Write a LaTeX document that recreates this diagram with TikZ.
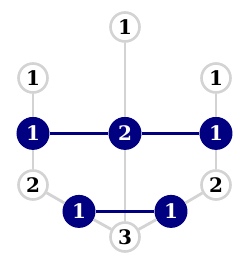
\documentclass[tikz,border=0pt]{standalone}
\usepackage{fontspec}
\setmainfont{DejaVu Serif}
\usetikzlibrary{positioning}
\definecolor{mtNavy}{HTML}{000080}
\definecolor{mtGray}{HTML}{D3D3D3}
\tikzset{
  vtx/.style={circle, minimum size=29pt, inner sep=0pt, font=\fontsize{20}{20}\selectfont\bfseries},
  freevtx/.style={vtx, draw=mtGray, line width=2.6pt, fill=white, text=black},
  matchvtx/.style={vtx, fill=mtNavy, text=white, minimum size=33pt},
  graphedge/.style={draw=mtGray, line width=2.8pt},
  matchedge/.style={draw=mtNavy, line width=3.6pt}
}
\begin{document}
\begin{tikzpicture}[x=1pt, y=1pt]
  \useasboundingbox (0,0) rectangle (250,266);
  \fill[white] (0,0) rectangle (250,266);
  % nodes
  \node[freevtx] (top) at (125,239) {1};
  \node[freevtx] (tl) at (33,188) {1};
  \node[freevtx] (tr) at (216,188) {1};
  \node[matchvtx] (l) at (33,132.6) {1};
  \node[matchvtx] (c) at (125,132.6) {2};
  \node[matchvtx] (r) at (216,132.6) {1};
  \node[freevtx] (sl) at (33,81) {2};
  \node[freevtx] (sr) at (216,81) {2};
  \node[matchvtx] (dl) at (79,54.6) {1};
  \node[matchvtx] (dr) at (171,54.6) {1};
  \node[freevtx] (bot) at (125,29) {3};
  % edges
  \foreach \s/\e in {top/c, c/bot, tl/l, l/sl, sl/dl, dl/bot, bot/dr, dr/sr, sr/r, r/tr}{\draw[graphedge] (\s) -- (\e);}
  \foreach \s/\e in {l/c, c/r, dl/dr}{\draw[matchedge] (\s) -- (\e);}
\end{tikzpicture}
\end{document}
